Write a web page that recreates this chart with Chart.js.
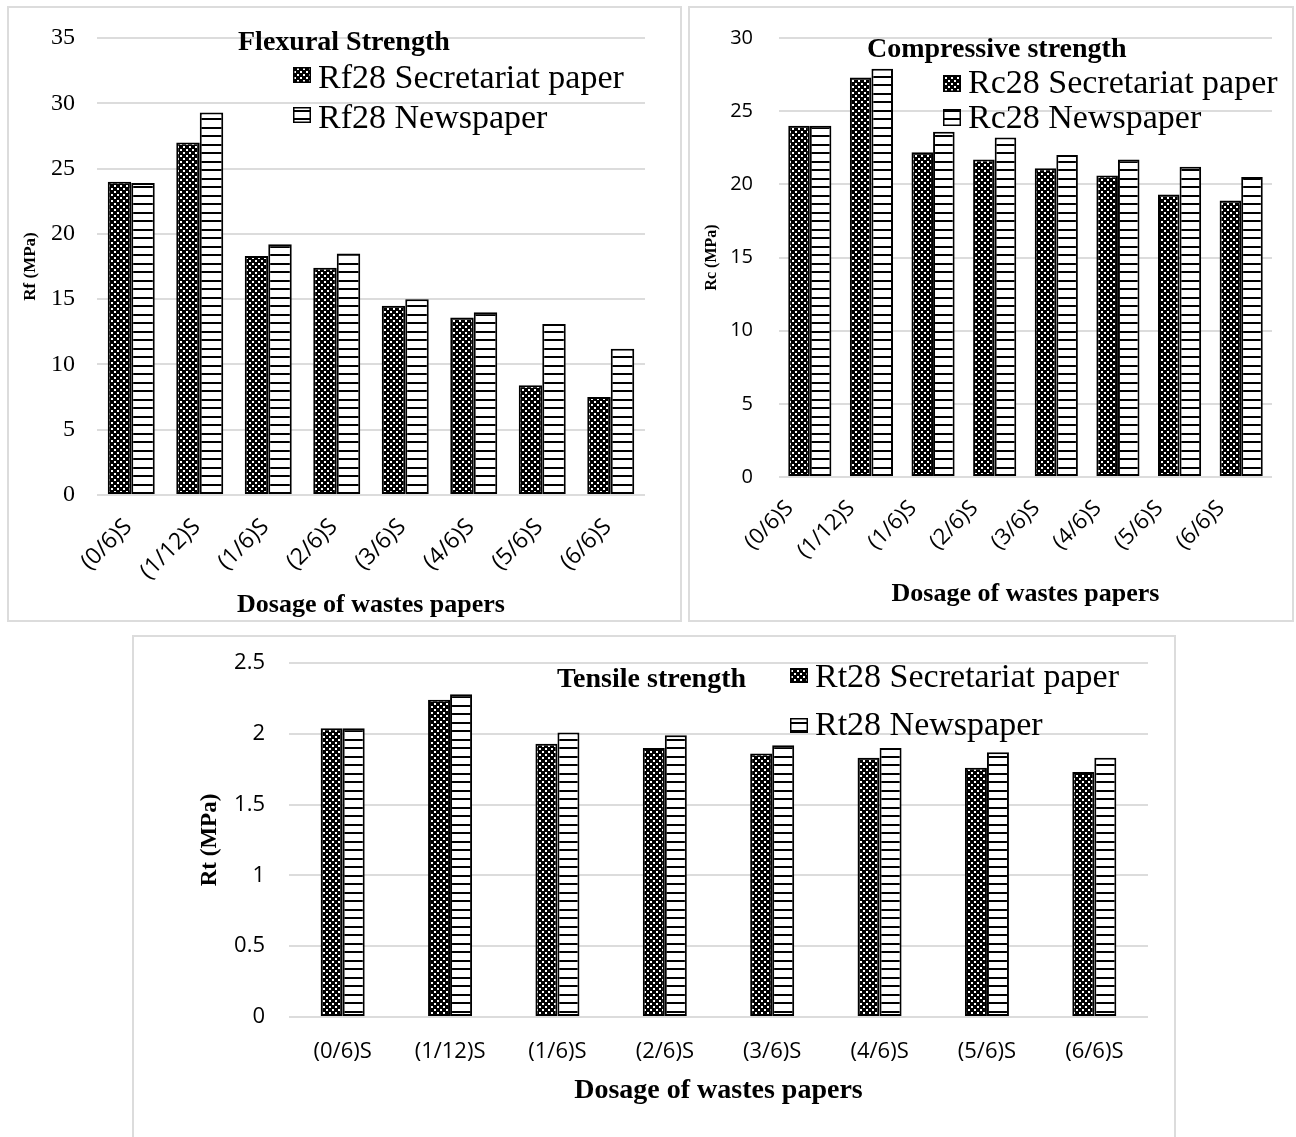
<!DOCTYPE html>
<html>
<head>
<meta charset="utf-8">
<script src="https://cdn.jsdelivr.net/npm/chart.js@4/dist/chart.umd.min.js"></script>
<style>
  html, body { margin: 0; padding: 0; background: #fff; }
  #page { position: relative; width: 1296px; height: 1137px; overflow: hidden; background: #fff; }
  .panel { position: absolute; border: 2px solid #dcdcdc; }
  .panel canvas { display: block; }
</style>
</head>
<body>
<div id="page">
  <div class="panel" style="left:7px;top:6px;width:671px;height:612px"><canvas id="cFlex" width="671" height="612"></canvas></div>
  <div class="panel" style="left:688px;top:6px;width:602px;height:612px"><canvas id="cComp" width="602" height="612"></canvas></div>
  <div class="panel" style="left:132px;top:635px;width:1040px;height:510px"><canvas id="cTens" width="1040" height="500"></canvas></div>
</div>
<script>
// Waste-paper dosages (x categories)
const categories = ['(0/6)S', '(1/12)S', '(1/6)S', '(2/6)S', '(3/6)S', '(4/6)S', '(5/6)S', '(6/6)S'];

// Flexural strength at 28 days (MPa)
const rfSecretariat = [24.0, 27.0, 18.3, 17.4, 14.5, 13.6, 8.4, 7.5];
const rfNewspaper   = [23.9, 29.3, 19.2, 18.5, 15.0, 14.0, 13.1, 11.2];

// Compressive strength at 28 days (MPa)
const rcSecretariat = [24.0, 27.3, 22.2, 21.7, 21.1, 20.6, 19.3, 18.9];
const rcNewspaper   = [24.0, 27.9, 23.6, 23.2, 22.0, 21.7, 21.2, 20.5];

// Tensile strength at 28 days (MPa)
const rtSecretariat = [2.04, 2.24, 1.93, 1.90, 1.86, 1.83, 1.76, 1.73];
const rtNewspaper   = [2.04, 2.28, 2.01, 1.99, 1.92, 1.90, 1.87, 1.83];

const SERIF = '"Liberation Serif", "Times New Roman", serif';
const SANS = '"Open Sans", "Liberation Sans", sans-serif';
Chart.defaults.color = '#000';

// Fill patterns: dotted black for secretariat paper, horizontal stripes for newspaper
function dotPattern() {
  const t = document.createElement('canvas');
  t.width = 6; t.height = 6;
  const g = t.getContext('2d');
  g.fillStyle = '#000'; g.fillRect(0, 0, 6, 6);
  g.fillStyle = '#fff'; g.fillRect(0, 0, 2, 2); g.fillRect(3, 3, 2, 2);
  return g.createPattern(t, 'repeat');
}
function stripePattern() {
  const t = document.createElement('canvas');
  t.width = 8; t.height = 17;
  const g = t.getContext('2d');
  g.fillStyle = '#fff'; g.fillRect(0, 0, 8, 17);
  g.fillStyle = '#000'; g.fillRect(0, 0, 8, 2); g.fillRect(0, 8, 8, 2);
  return g.createPattern(t, 'repeat');
}
const dots = dotPattern();
const stripes = stripePattern();

// Title and legend drawn inside the plot area
const panelKey = {
  id: 'panelKey',
  afterDatasetsDraw(chart, args, o) {
    const ctx = chart.ctx;
    ctx.save();
    ctx.fillStyle = '#000';
    ctx.textBaseline = 'alphabetic';
    ctx.textAlign = 'left';
    ctx.font = 'bold ' + o.titleSize + 'px ' + SERIF;
    ctx.fillText(o.title, o.titleX, o.titleY);
    ctx.font = o.itemSize + 'px ' + SERIF;
    chart.data.datasets.forEach((ds, i) => {
      const it = o.items[i];
      ctx.fillStyle = ds.backgroundColor;
      ctx.fillRect(it.bx, it.by, o.boxW, o.boxH);
      ctx.strokeStyle = '#000';
      ctx.lineWidth = 1.5;
      ctx.strokeRect(it.bx + 0.75, it.by + 0.75, o.boxW - 1.5, o.boxH - 1.5);
      ctx.fillStyle = '#000';
      ctx.fillText(ds.label, it.tx, it.ty);
    });
    ctx.restore();
  }
};

function barSet(label, data, fill) {
  return { label, data, backgroundColor: fill, borderColor: '#000', borderWidth: 2, borderSkipped: false };
}

function makeChart(id, p) {
  return new Chart(document.getElementById(id), {
    type: 'bar',
    data: {
      labels: categories,
      datasets: [barSet(p.names[0], p.a, dots), barSet(p.names[1], p.b, stripes)]
    },
    options: {
      responsive: false,
      animation: false,
      devicePixelRatio: 1,
      layout: { padding: p.pad },
      datasets: { bar: { categoryPercentage: p.cat, barPercentage: 1 } },
      plugins: { legend: { display: false }, tooltip: { enabled: false }, panelKey: p.key },
      scales: {
        x: {
          grid: { display: false },
          border: { display: false },
          ticks: {
            autoSkip: false, minRotation: p.rot, maxRotation: p.rot,
            padding: p.xTickPad, labelOffset: p.xTickShift, color: '#000',
            font: { family: SANS, size: p.xTickSize, lineHeight: 1 }
          },
          title: {
            display: true, text: 'Dosage of wastes papers', color: '#000',
            font: { family: SERIF, size: p.xTitleSize, weight: 'bold', lineHeight: 1 },
            padding: { top: 0, bottom: p.xTitlePad }
          },
          afterFit(s) { s.height = p.xH; s.paddingLeft = 0; s.paddingRight = 0; }
        },
        y: {
          min: 0, max: p.yMax,
          grid: { color: '#dcdcdc', lineWidth: 2, drawTicks: false },
          border: { display: false },
          ticks: {
            stepSize: p.step, padding: p.yTickPad, color: '#000',
            font: { family: p.yTickFamily, size: p.yTickSize, lineHeight: 1 },
            callback: v => String(Math.round(v * 100) / 100)
          },
          title: {
            display: true, text: p.yTitle, color: '#000',
            font: { family: SERIF, size: p.yTitleSize, weight: 'bold', lineHeight: 1 },
            padding: { top: p.yTitlePad, bottom: 0 }
          },
          afterFit(s) { s.width = p.yW; s.paddingTop = 0; s.paddingBottom = 0; }
        }
      }
    },
    plugins: [panelKey]
  });
}

// Flexural strength
makeChart('cFlex', {
  names: ['Rf28 Secretariat paper', 'Rf28 Newspaper'],
  a: rfSecretariat, b: rfNewspaper,
  pad: { left: 0, right: 35, top: 30, bottom: 0 },
  cat: 0.686, rot: 45,
  xTickPad: 12, xTickShift: -3, xTickSize: 23, xTitleSize: 26, xTitlePad: 2, xH: 125,
  yMax: 35, step: 5, yTickPad: 22, yTickFamily: SERIF, yTickSize: 24,
  yTitle: 'Rf (MPa)', yTitleSize: 17, yTitlePad: 13.5, yW: 88,
  key: {
    title: 'Flexural Strength', titleSize: 28, titleX: 229, titleY: 42,
    itemSize: 34, boxW: 18, boxH: 16,
    items: [{ bx: 284, by: 59, tx: 309, ty: 80 }, { bx: 284, by: 99, tx: 309, ty: 120 }]
  }
});

// Compressive strength
makeChart('cComp', {
  names: ['Rc28 Secretariat paper', 'Rc28 Newspaper'],
  a: rcSecretariat, b: rcNewspaper,
  pad: { left: 0, right: 20, top: 30, bottom: 0 },
  cat: 0.70, rot: 45,
  xTickPad: 12, xTickShift: -20, xTickSize: 22, xTitleSize: 26, xTitlePad: 13, xH: 143,
  yMax: 30, step: 5, yTickPad: 26, yTickFamily: SANS, yTickSize: 20,
  yTitle: 'Rc (MPa)', yTitleSize: 16, yTitlePad: 14, yW: 89,
  key: {
    title: 'Compressive strength', titleSize: 28, titleX: 177, titleY: 49,
    itemSize: 34, boxW: 18, boxH: 17,
    items: [{ bx: 253, by: 67, tx: 278, ty: 85 }, { bx: 253, by: 101, tx: 278, ty: 120 }]
  }
});

// Tensile strength
makeChart('cTens', {
  names: ['Rt28 Secretariat paper', 'Rt28 Newspaper'],
  a: rtSecretariat, b: rtNewspaper,
  pad: { left: 0, right: 26, top: 26, bottom: 0 },
  cat: 0.41, rot: 0,
  xTickPad: 16, xTickShift: 0, xTickSize: 22, xTitleSize: 28, xTitlePad: 32, xH: 120,
  yMax: 2.5, step: 0.5, yTickPad: 24, yTickFamily: SANS, yTickSize: 22,
  yTitle: 'Rt (MPa)', yTitleSize: 23, yTitlePad: 64.5, yW: 155,
  key: {
    title: 'Tensile strength', titleSize: 28, titleX: 423, titleY: 50,
    itemSize: 34, boxW: 18, boxH: 15,
    items: [{ bx: 656, by: 31, tx: 681, ty: 50 }, { bx: 656, by: 81, tx: 681, ty: 98 }]
  }
});
</script>
</body>
</html>
